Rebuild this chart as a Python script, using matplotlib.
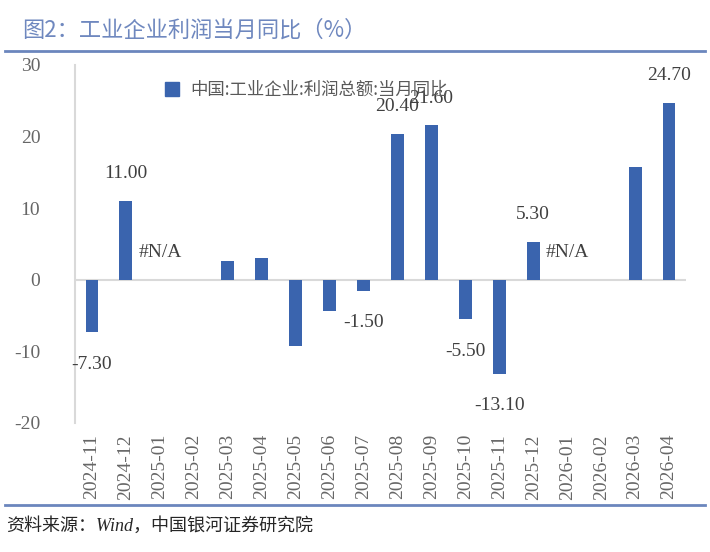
import numpy as np
import matplotlib
matplotlib.use('Agg')
import matplotlib.pyplot as plt
from matplotlib.lines import Line2D

plt.rcParams['font.family'] = ['Liberation Serif', 'Noto Sans CJK SC', 'DejaVu Sans']
plt.rcParams['axes.unicode_minus'] = False

months = ['2024-11', '2024-12', '2025-01', '2025-02', '2025-03', '2025-04', '2025-05',
          '2025-06', '2025-07', '2025-08', '2025-09', '2025-10', '2025-11', '2025-12',
          '2026-01', '2026-02', '2026-03', '2026-04']
profit_yoy = [-7.3, 11.0, np.nan, np.nan, 2.6, 3.1, -9.2, -4.4, -1.5, 20.4, 21.6,
              -5.5, -13.1, 5.3, np.nan, np.nan, 15.8, 24.7]
# data labels as they appear on the chart (None = not shown)
bar_labels = ['-7.30', '11.00', '#N/A', None, None, None, None, None, '-1.50', '20.40',
              '21.60', '-5.50', '-13.10', '5.30', '#N/A', None, None, '24.70']

BAR = '#3A64AE'
TITLE = '#6F88BF'
RULE = '#6B86BD'
TICK = '#666666'
LAB = '#404040'

fig = plt.figure(figsize=(7.1, 5.52), dpi=100)
ax = fig.add_axes([75 / 710, 1 - 423 / 552, 611 / 710, 358 / 552])

x = np.arange(len(months))
vals = np.array(profit_yoy, dtype=float)
ax.bar(x, np.nan_to_num(vals), width=0.38, color=BAR, zorder=3)
ax.axhline(0, color='#D9D9D9', lw=1.5, zorder=2)

for xi, v, lab in zip(x, vals, bar_labels):
    if lab is None:
        continue
    v0 = 0 if np.isnan(v) else v
    dy = -23 if v0 < 0 else 19.5
    ax.annotate(lab, (xi, v0), xytext=(0, dy), textcoords='offset points',
                ha='center', va='center', fontsize=14, color=LAB,
                family='Liberation Serif', zorder=4)

ax.set_xlim(-0.5, len(months) - 0.5)
ax.set_ylim(-20, 30)
ax.set_yticks([-20, -10, 0, 10, 20, 30])
ax.set_xticks(x)
ax.set_xticklabels(months, rotation=90)
ax.tick_params(axis='both', length=0, labelsize=14, colors=TICK)
ax.tick_params(axis='y', pad=25)
ax.tick_params(axis='x', pad=8)
for s in ['top', 'right', 'bottom']:
    ax.spines[s].set_visible(False)
ax.spines['left'].set_color('#D9D9D9')
ax.spines['left'].set_linewidth(1.5)

handle = Line2D([], [], marker='s', ls='', markersize=10, color=BAR)
ax.legend([handle], ['中国:工业企业:利润总额:当月同比'], loc='upper left',
          bbox_to_anchor=(0.105, 1.0), frameon=False, handletextpad=0.05,
          prop={'family': ['Noto Sans CJK SC'], 'size': 12.5}, labelcolor='#595959')

fig.text(22 / 710, 1 - 30 / 552, '图2：工业企业利润当月同比（%）', fontsize=16,
         color=TITLE, va='center', ha='left', family=['Noto Sans CJK SC'])
fig.add_artist(Line2D([5 / 710, 705 / 710], [1 - 51 / 552] * 2, color=RULE, lw=2))
fig.add_artist(Line2D([5 / 710, 705 / 710], [1 - 505 / 552] * 2, color=RULE, lw=2))
fig.text(6 / 710, 1 - 526 / 552, '资料来源：Wind，中国银河证券研究院', fontsize=13,
         color='#262626', va='center', ha='left', style='italic',
         family=['Liberation Serif', 'Noto Sans CJK SC'])

fig.savefig('out.png', dpi=100)
